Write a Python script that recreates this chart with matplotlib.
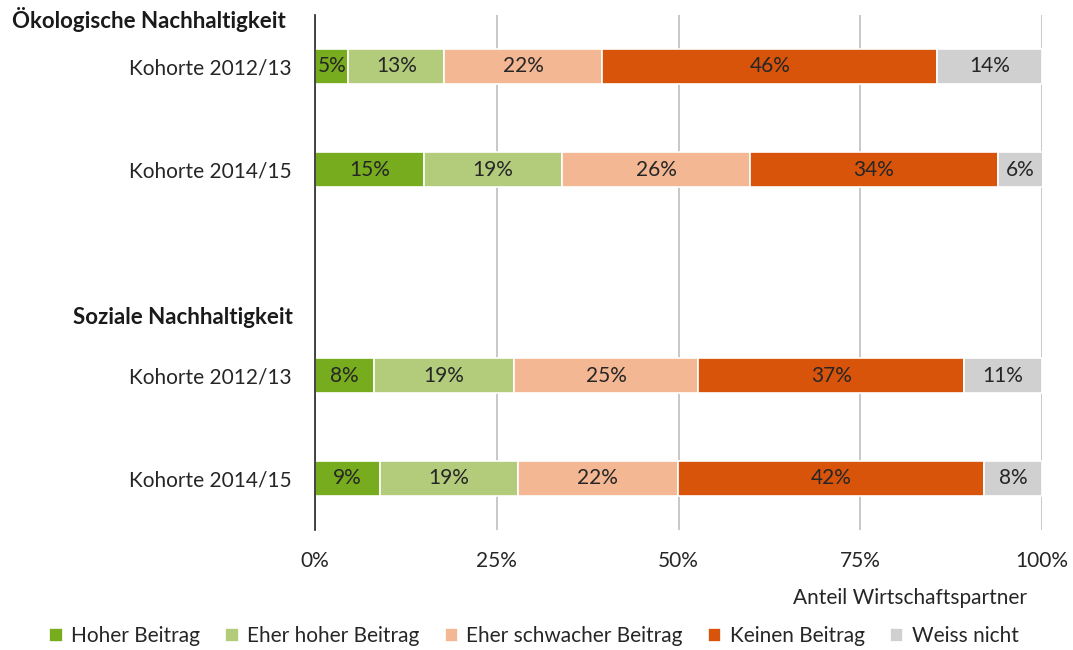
import matplotlib.pyplot as plt
import numpy as np

plt.rcParams['font.family'] = ['Lato', 'DejaVu Sans']

# data
rows = ["Kohorte 2012/13", "Kohorte 2014/15", "Kohorte 2012/13", "Kohorte 2014/15"]
groups = ["Ökologische Nachhaltigkeit", "Soziale Nachhaltigkeit"]
series = ["Hoher Beitrag", "Eher hoher Beitrag", "Eher schwacher Beitrag", "Keinen Beitrag", "Weiss nicht"]
hoher = [4.6, 15.0, 8.1, 8.9]
eher_hoher = [13.2, 19.0, 19.3, 19.0]
eher_schwach = [21.7, 25.9, 25.3, 22.0]
keinen = [46.1, 34.0, 36.6, 42.1]
weiss_nicht = [14.4, 6.2, 10.7, 8.0]
labels = [
    ["5%", "13%", "22%", "46%", "14%"],
    ["15%", "19%", "26%", "34%", "6%"],
    ["8%", "19%", "25%", "37%", "11%"],
    ["9%", "19%", "22%", "42%", "8%"],
]
xticks = [0, 25, 50, 75, 100]
xticklabels = ["0%", "25%", "50%", "75%", "100%"]

colors = ["#77AC1E", "#B2CC7B", "#F4B793", "#D9540B", "#D0D0D0"]

# slot positions: two rows, empty slot, two rows
ypos = [0.5, 1.5, 3.5, 4.5]
group_y = [0.04, 2.94]
group_x = [-4.0, -3.0]

fs = 15

fig = plt.figure(figsize=(10.73, 6.5), dpi=100)
ax = fig.add_axes([315 / 1073, 1 - 530 / 650, (1042 - 315) / 1073, 515 / 650])

data = [hoher, eher_hoher, eher_schwach, keinen, weiss_nicht]
left = np.zeros(len(rows))
for i, (vals, name) in enumerate(zip(data, series)):
    vals = np.array(vals)
    bars = ax.barh(ypos, vals, left=left, height=0.34, color=colors[i],
                   edgecolor="white", linewidth=1.2, label=name, zorder=3)
    for j, b in enumerate(bars):
        ax.text(left[j] + vals[j] / 2, ypos[j], labels[j][i], ha="center", va="center",
                fontsize=fs, color="#262626", zorder=4)
    left += vals

ax.set_xlim(0, 100)
ax.set_ylim(5, 0)
ax.set_xticks(xticks)
ax.set_xticklabels(xticklabels, fontsize=fs, color="#262626")
ax.tick_params(axis="x", length=0, pad=15)
ax.set_yticks(ypos)
ax.set_yticklabels(rows, fontsize=fs, color="#262626")
ax.tick_params(axis="y", length=0, pad=16.5)
ax.xaxis.grid(True, color="#BFBFBF", linewidth=1.2, zorder=0)
for s in ["top", "right", "bottom"]:
    ax.spines[s].set_visible(False)
ax.spines["left"].set_color("#262626")
ax.spines["left"].set_linewidth(1.2)
ax.spines["left"].set_zorder(5)

for g, gx, gy in zip(groups, group_x, group_y):
    ax.text(gx, gy, g, transform=ax.transData, ha="right", va="center",
            fontsize=16, fontweight="bold", color="#1a1a1a")

fig.text(1027 / 1073, 1 - 598 / 650, "Anteil Wirtschaftspartner", ha="right", va="center",
         fontsize=fs, color="#262626")

fig.legend(loc="center", bbox_to_anchor=(534 / 1073, 1 - 636 / 650), ncol=5, frameon=False,
           fontsize=fs, handlelength=0.65, handleheight=0.65, handletextpad=0.4,
           columnspacing=1.2, labelcolor="#262626")

fig.savefig("out.png", dpi=100)
